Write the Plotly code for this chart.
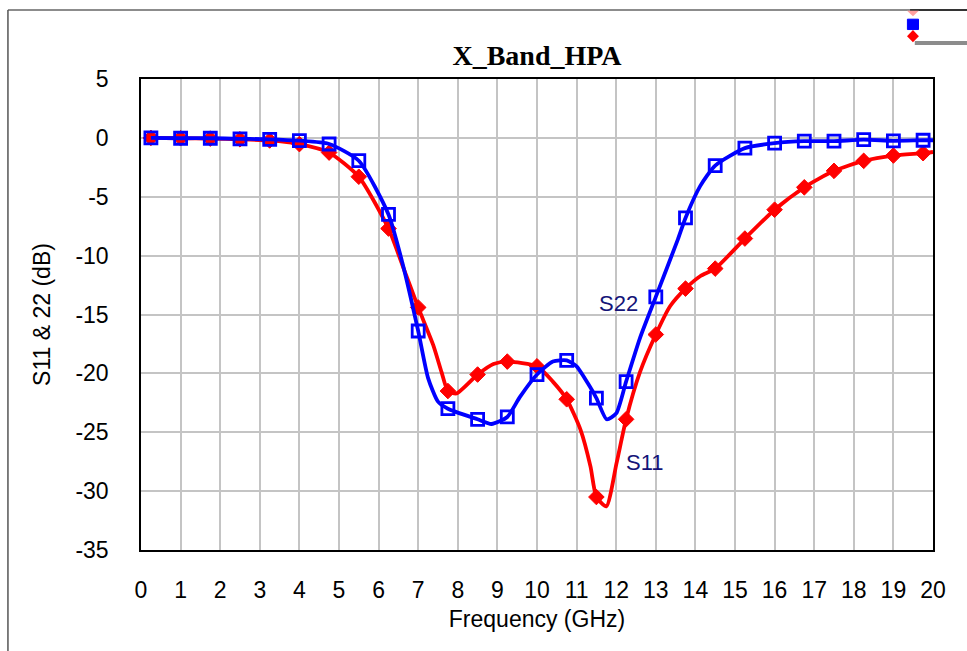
import plotly.graph_objects as go

# S11 trace: smooth simulated response (GHz, dB)
s11_freq = [0.25, 1.0, 1.75, 2.5, 3.25, 4.0, 4.75, 5.5, 6.25, 6.6, 7.0, 7.38, 7.59,
            7.75, 7.97, 8.5, 8.9, 9.25, 10.0, 10.4, 10.75, 11.1, 11.35, 11.5, 11.75,
            12.01, 12.25, 12.6, 13.0, 13.36, 13.75, 14.12, 14.5, 15.25, 16.0, 16.75,
            17.5, 18.25, 19.0, 19.75, 20.0]
s11_db = [0.0, -0.03, -0.06, -0.12, -0.22, -0.53, -1.25, -3.3, -7.7, -10.8, -14.4, -17.6, -19.9,
          -21.5, -21.7, -20.1, -19.2, -19.0, -19.4, -20.7, -22.2, -24.8, -27.9, -30.5, -31.3,
          -27.6, -23.9, -19.9, -16.7, -14.3, -12.8, -11.75, -11.1, -8.55, -6.1, -4.2,
          -2.8, -1.95, -1.5, -1.3, -1.2]

# S22 trace
s22_freq = [0.25, 1.0, 1.75, 2.5, 3.25, 4.0, 4.75, 5.5, 6.25, 6.6, 7.0, 7.25, 7.5,
            7.75, 8.5, 8.85, 9.25, 9.57, 10.0, 10.4, 10.75, 11.0, 11.33, 11.5, 11.76,
            12.0, 12.25, 12.6, 13.0, 13.56, 13.75, 14.12, 14.5, 15.25, 16.0, 16.75,
            17.5, 18.25, 19.0, 19.75, 20.0]
s22_db = [0.0, -0.03, -0.03, -0.08, -0.12, -0.24, -0.52, -1.94, -6.5, -10.6, -16.4, -20.4, -22.4,
          -23.0, -23.9, -24.3, -23.7, -22.0, -20.1, -19.0, -18.9, -19.4, -21.1, -22.1, -23.9,
          -23.4, -20.7, -17.0, -13.5, -8.6, -6.8, -4.1, -2.35, -0.87, -0.45, -0.28,
          -0.28, -0.15, -0.25, -0.2, -0.2]

# Marker positions (every 0.75 GHz)
mk_freq = [0.25, 1.0, 1.75, 2.5, 3.25, 4.0, 4.75, 5.5, 6.25, 7.0, 7.75, 8.5, 9.25, 10.0,
           10.75, 11.5, 12.25, 13.0, 13.75, 14.5, 15.25, 16.0, 16.75, 17.5, 18.25, 19.0, 19.75]
s11_mk = [0.0, -0.03, -0.06, -0.12, -0.22, -0.53, -1.25, -3.3, -7.7, -14.4, -21.5, -20.1, -19.0,
          -19.4, -22.2, -30.5, -23.9, -16.7, -12.8, -11.1, -8.55, -6.1, -4.2, -2.8, -1.95, -1.5, -1.3]
s22_mk = [0.0, -0.03, -0.03, -0.08, -0.12, -0.24, -0.52, -1.94, -6.5, -16.4, -23.0, -23.9, -23.7,
          -20.1, -18.9, -22.1, -20.7, -13.5, -6.8, -2.35, -0.87, -0.45, -0.28, -0.28, -0.15, -0.25, -0.2]

x_ticks = list(range(0, 21))
y_ticks = list(range(-35, 6, 5))

BLUE = "#0000FF"
RED = "#FF0000"
LABEL = "#141478"
FONT = "Liberation Sans, Arial, sans-serif"

fig = go.Figure()

fig.add_trace(go.Scatter(x=s11_freq, y=s11_db, mode="lines",
                         line=dict(color=RED, width=3.8, shape="spline", smoothing=0.6),
                         hoverinfo="skip", showlegend=False))
fig.add_trace(go.Scatter(x=mk_freq, y=s11_mk, mode="markers",
                         marker=dict(symbol="diamond", size=12, color=RED,
                                     line=dict(color=RED, width=1)),
                         name="S11", showlegend=False))
fig.add_trace(go.Scatter(x=s22_freq, y=s22_db, mode="lines",
                         line=dict(color=BLUE, width=3.8, shape="spline", smoothing=0.6),
                         hoverinfo="skip", showlegend=False))
fig.add_trace(go.Scatter(x=mk_freq, y=s22_mk, mode="markers",
                         marker=dict(symbol="square-open", size=12, color=BLUE,
                                     line=dict(color=BLUE, width=2.8)),
                         name="S22", showlegend=False))

fig.add_annotation(x=12.05, y=-14.1, text="S22", showarrow=False,
                   font=dict(family=FONT, size=22, color=LABEL))
fig.add_annotation(x=12.73, y=-27.6, text="S11", showarrow=False,
                   font=dict(family=FONT, size=22, color=LABEL))

# Outer frame pieces and the clipped legend corner (paper coords of the plot area)
fig.add_shape(type="line", xref="paper", yref="paper", x0=-0.168, x1=0.971, y0=1.1465, y1=1.1465,
              line=dict(color="#8c8c8c", width=2))
fig.add_shape(type="line", xref="paper", yref="paper", x0=0.971, x1=1.05, y0=1.1465, y1=1.1465,
              line=dict(color="#333333", width=2))
fig.add_shape(type="line", xref="paper", yref="paper", x0=-0.168, x1=-0.168, y0=1.1465, y1=-0.22,
              line=dict(color="#555555", width=1.5))
fig.add_shape(type="line", xref="paper", yref="paper", x0=0.977, x1=1.05, y0=1.0764, y1=1.0764,
              line=dict(color="#8c8c8c", width=4))
fig.add_shape(type="path", xref="paper", yref="paper",
              path="M 0.9672 1.145 L 0.9822 1.145 L 0.9747 1.133 Z",
              fillcolor="#FFA0A0", line=dict(width=0))
fig.add_shape(type="rect", xref="paper", yref="paper", x0=0.9677, x1=0.9817, y0=1.105, y1=1.127,
              fillcolor=BLUE, line=dict(color=BLUE, width=1))
fig.add_shape(type="path", xref="paper", yref="paper",
              path="M 0.9747 1.104 L 0.9822 1.091 L 0.9747 1.078 L 0.9672 1.091 Z",
              fillcolor=RED, line=dict(width=0))

fig.update_layout(
    width=967, height=651,
    margin=dict(l=141, r=34, t=79, b=101),
    paper_bgcolor="white", plot_bgcolor="white",
    title=dict(text="<b>X_Band_HPA</b>", x=0.5, xref="paper", xanchor="center",
               y=0.915, yanchor="middle",
               font=dict(family="Liberation Serif, Times New Roman, serif", size=28, color="black")),
    font=dict(family=FONT, size=23, color="black"),
)

fig.update_xaxes(range=[0, 20], tickvals=x_ticks, ticktext=[str(v) for v in x_ticks],
                 showgrid=True, gridcolor="#c4c4c4", gridwidth=1.5,
                 showline=True, mirror=True, linecolor="black", linewidth=1.5,
                 ticks="", ticklabelstandoff=19, zeroline=False,
                 tickfont=dict(family=FONT, size=23),
                 title=dict(text="Frequency (GHz)", font=dict(family=FONT, size=23), standoff=9))
fig.update_yaxes(range=[-35, 5], tickvals=y_ticks, ticktext=[str(v) for v in y_ticks],
                 showgrid=True, gridcolor="#c4c4c4", gridwidth=1.5,
                 showline=True, mirror=True, linecolor="black", linewidth=1.5,
                 ticks="", ticklabelstandoff=26, zeroline=False,
                 tickfont=dict(family=FONT, size=23),
                 title=dict(text="S11 & 22 (dB)", font=dict(family=FONT, size=23), standoff=18))

fig.write_html("out.html")
